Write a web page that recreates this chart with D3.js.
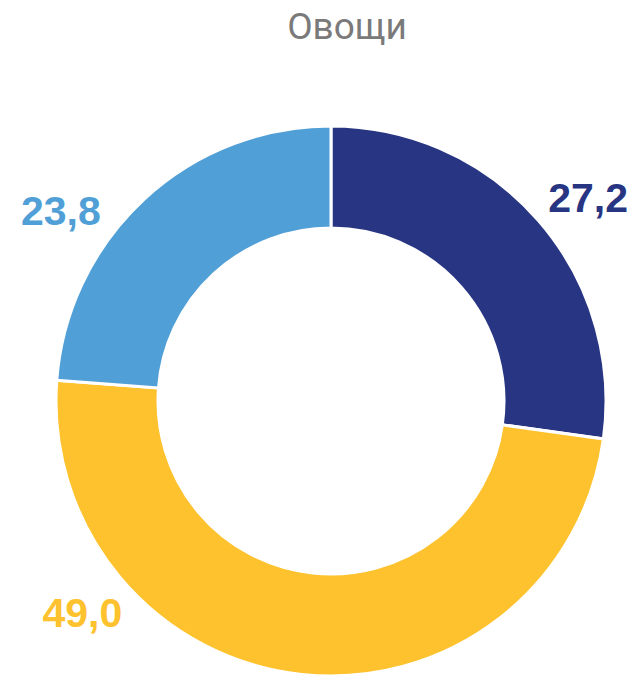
<!DOCTYPE html>
<html>
<head>
<meta charset="utf-8">
<script src="https://cdn.jsdelivr.net/npm/d3@7"></script>
<style>
body{margin:0;background:#fff;}
</style>
</head>
<body>
<script>
//chart data
var title="Овощи";
var categories=["A","B","C"];
var values=[27.2,49.0,23.8];
var labels=["27,2","49,0","23,8"];
var colors=["#283583","#fdc22d","#509fd6"];

//label placement (angle in degrees, distance from centre)
var labelAngles=[51.6,229.7,305.3];
var labelRadius=[328,326,331];

window.onload=drawChart();

function drawChart(){
	var width=631,
		height=675,
		cx=331,
		cy=401,
		outer=275,
		inner=173;

	var svg=d3.select("body")
		.append("svg")
		.attr("width",width)
		.attr("height",height);

	//title
	svg.append("text")
		.attr("x",347)
		.attr("y",39)
		.attr("text-anchor","middle")
		.style("font-family","Roboto, 'Liberation Sans', sans-serif")
		.style("font-size","37px")
		.style("fill","#7a7a7a")
		.text(title);

	var pie=d3.pie()
		.sort(null)
		.value(function(d){return d;});

	var arc=d3.arc()
		.innerRadius(inner)
		.outerRadius(outer);

	var g=svg.append("g")
		.attr("transform","translate("+cx+","+cy+")");

	g.selectAll(".slice")
		.data(pie(values))
		.enter()
		.append("path")
		.attr("class","slice")
		.attr("d",arc)
		.attr("fill",function(d,i){return colors[i];})
		.attr("stroke","#fff")
		.attr("stroke-width",3);

	//value labels
	g.selectAll(".lbl")
		.data(labels)
		.enter()
		.append("text")
		.attr("class","lbl")
		.attr("x",function(d,i){return d3.pointRadial(labelAngles[i]*Math.PI/180,labelRadius[i])[0];})
		.attr("y",function(d,i){return d3.pointRadial(labelAngles[i]*Math.PI/180,labelRadius[i])[1];})
		.attr("text-anchor","middle")
		.attr("dy","0.36em")
		.style("font-family","'Liberation Sans', Arial, sans-serif")
		.style("font-weight","bold")
		.style("font-size","41px")
		.style("fill",function(d,i){return colors[i];})
		.text(function(d){return d;});
};
</script>
</body>
</html>
